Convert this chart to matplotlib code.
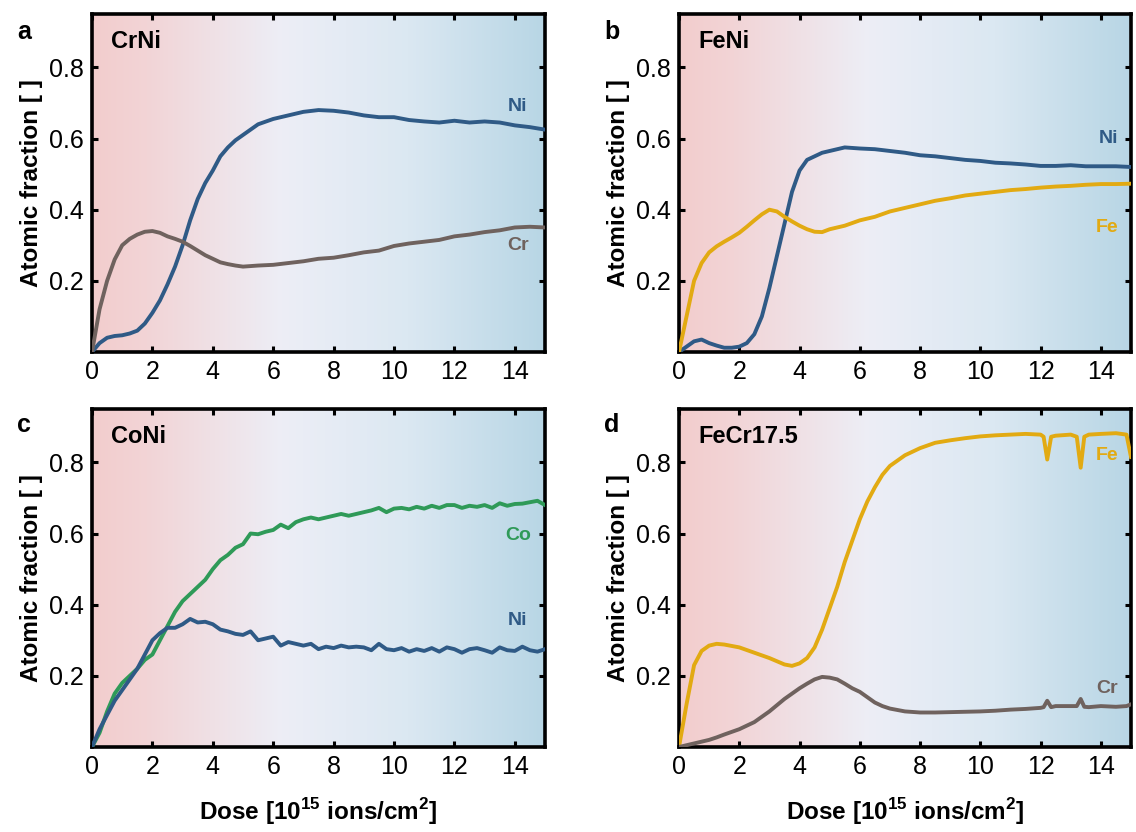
import numpy as np
import matplotlib
matplotlib.use("Agg")
import matplotlib.pyplot as plt
from matplotlib.colors import LinearSegmentedColormap

plt.rcParams['font.family'] = ['Liberation Sans', 'DejaVu Sans']
plt.rcParams['mathtext.fontset'] = 'custom'
plt.rcParams['mathtext.rm'] = 'Liberation Sans'
plt.rcParams['mathtext.bf'] = 'Liberation Sans:bold'

# ---------------- data ----------------
# Panel a: CrNi
a_x = [0, 0.25, 0.5, 0.75, 1, 1.25, 1.5, 1.75, 2, 2.25, 2.5, 2.75, 3, 3.25, 3.5, 3.75, 4, 4.25, 4.5, 4.75,
       5, 5.5, 6, 6.5, 7, 7.5, 8, 8.5, 9, 9.5, 10, 10.5, 11, 11.5, 12, 12.5, 13, 13.5, 14, 14.5, 15]
a_ni = [0.0, 0.025, 0.04, 0.045, 0.047, 0.052, 0.06, 0.08, 0.11, 0.145, 0.19, 0.24, 0.30, 0.37, 0.43, 0.475,
        0.51, 0.55, 0.575, 0.595, 0.61, 0.64, 0.655, 0.665, 0.675, 0.68, 0.678, 0.673, 0.665, 0.66, 0.66,
        0.652, 0.648, 0.645, 0.65, 0.645, 0.648, 0.645, 0.637, 0.632, 0.625]
a_cr = [0.0, 0.12, 0.20, 0.26, 0.30, 0.318, 0.33, 0.338, 0.34, 0.335, 0.325, 0.318, 0.31, 0.298, 0.285, 0.272,
        0.262, 0.252, 0.247, 0.243, 0.240, 0.243, 0.245, 0.250, 0.255, 0.262, 0.265, 0.272, 0.280, 0.285, 0.298,
        0.305, 0.310, 0.315, 0.325, 0.330, 0.337, 0.342, 0.350, 0.352, 0.350]

# Panel b: FeNi
b_x = [0, 0.25, 0.5, 0.75, 1, 1.25, 1.5, 1.75, 2, 2.25, 2.5, 2.75, 3, 3.25, 3.5, 3.75, 4, 4.25, 4.5, 4.75,
       5, 5.5, 6, 6.5, 7, 7.5, 8, 8.5, 9, 9.5, 10, 10.5, 11, 11.5, 12, 12.5, 13, 13.5, 14, 14.5, 15]
b_fe = [0.0, 0.10, 0.20, 0.25, 0.28, 0.297, 0.31, 0.322, 0.335, 0.352, 0.37, 0.387, 0.40, 0.395, 0.38, 0.367,
        0.355, 0.345, 0.338, 0.337, 0.345, 0.355, 0.37, 0.38, 0.395, 0.405, 0.415, 0.425, 0.432, 0.44, 0.445,
        0.45, 0.455, 0.458, 0.462, 0.465, 0.467, 0.47, 0.472, 0.472, 0.473]
b_ni = [0.0, 0.015, 0.03, 0.035, 0.025, 0.018, 0.012, 0.012, 0.015, 0.025, 0.05, 0.10, 0.18, 0.27, 0.36, 0.45,
        0.51, 0.54, 0.55, 0.56, 0.565, 0.575, 0.572, 0.570, 0.565, 0.560, 0.553, 0.550, 0.545, 0.540, 0.537,
        0.532, 0.530, 0.527, 0.523, 0.523, 0.525, 0.522, 0.522, 0.522, 0.520]

# Panel c: CoNi
c_x = [0, 0.25, 0.5, 0.75, 1, 1.25, 1.5, 1.75, 2, 2.25, 2.5, 2.75, 3, 3.25, 3.5, 3.75, 4, 4.25, 4.5, 4.75,
       5, 5.25, 5.5, 5.75, 6, 6.25, 6.5, 6.75, 7, 7.25, 7.5, 7.75, 8, 8.25, 8.5, 8.75, 9, 9.25, 9.5, 9.75,
       10, 10.25, 10.5, 10.75, 11, 11.25, 11.5, 11.75, 12, 12.25, 12.5, 12.75, 13, 13.25, 13.5, 13.75, 14,
       14.25, 14.5, 14.75, 15]
c_co = [0.0, 0.04, 0.10, 0.15, 0.18, 0.20, 0.22, 0.245, 0.26, 0.30, 0.34, 0.38, 0.41, 0.43, 0.45, 0.47,
        0.50, 0.525, 0.54, 0.56, 0.57, 0.60, 0.598, 0.605, 0.61, 0.625, 0.615, 0.632, 0.64, 0.645, 0.64,
        0.645, 0.65, 0.655, 0.65, 0.655, 0.66, 0.665, 0.672, 0.66, 0.67, 0.672, 0.668, 0.675, 0.67, 0.678,
        0.672, 0.68, 0.68, 0.672, 0.678, 0.675, 0.68, 0.672, 0.685, 0.678, 0.683, 0.684, 0.688, 0.692, 0.68]
c_ni = [0.0, 0.05, 0.09, 0.13, 0.16, 0.19, 0.22, 0.26, 0.30, 0.32, 0.335, 0.335, 0.345, 0.36, 0.35, 0.352,
        0.345, 0.33, 0.325, 0.318, 0.315, 0.325, 0.30, 0.305, 0.31, 0.285, 0.295, 0.29, 0.285, 0.29, 0.275,
        0.282, 0.278, 0.285, 0.28, 0.282, 0.28, 0.272, 0.29, 0.275, 0.272, 0.278, 0.268, 0.275, 0.27, 0.278,
        0.268, 0.28, 0.275, 0.265, 0.275, 0.278, 0.272, 0.265, 0.28, 0.272, 0.27, 0.282, 0.272, 0.268, 0.275]

# Panel d: FeCr17.5
d_x = [0, 0.25, 0.5, 0.75, 1, 1.25, 1.5, 2, 2.5, 3, 3.5, 3.75, 4, 4.25, 4.5, 4.75, 5, 5.25, 5.5, 5.75,
       6, 6.25, 6.5, 6.75, 7, 7.5, 8, 8.5, 9, 9.5, 10, 10.5, 11, 11.5, 12, 12.1, 12.22, 12.35, 12.5, 13,
       13.2, 13.33, 13.45, 13.6, 14, 14.5, 14.85, 15]
d_fe = [0.0, 0.12, 0.23, 0.27, 0.285, 0.29, 0.288, 0.28, 0.265, 0.25, 0.232, 0.228, 0.235, 0.25, 0.28, 0.33,
        0.39, 0.45, 0.52, 0.58, 0.64, 0.69, 0.73, 0.765, 0.79, 0.82, 0.84, 0.855, 0.862, 0.868, 0.873, 0.876,
        0.878, 0.88, 0.878, 0.872, 0.808, 0.872, 0.875, 0.878, 0.872, 0.785, 0.872, 0.878, 0.88, 0.882, 0.878,
        0.815]
d_cr = [0.0, 0.005, 0.01, 0.015, 0.02, 0.027, 0.035, 0.05, 0.07, 0.10, 0.135, 0.15, 0.165, 0.178, 0.19, 0.197,
        0.195, 0.19, 0.178, 0.165, 0.155, 0.14, 0.125, 0.115, 0.108, 0.10, 0.097, 0.097, 0.098, 0.099, 0.10,
        0.102, 0.105, 0.107, 0.11, 0.112, 0.13, 0.112, 0.115, 0.115, 0.115, 0.135, 0.113, 0.112, 0.115, 0.113,
        0.115, 0.12]

panel_letters = ['a', 'b', 'c', 'd']
panel_titles = ['CrNi', 'FeNi', 'CoNi', 'FeCr17.5']
x_ticks = [0, 2, 4, 6, 8, 10, 12, 14]
y_ticks = [0.2, 0.4, 0.6, 0.8]

# ---------------- style ----------------
C_NI = '#2f5a86'
C_CR = '#6f625e'
C_FE = '#e2aa12'
C_CO = '#2f9a58'

bg_cmap = LinearSegmentedColormap.from_list(
    'bg', [(0.0, '#f3cdcd'), (0.12, '#f2d4d6'), (0.42, '#edeef6'),
           (0.7, '#dbe8f2'), (1.0, '#b8d6e5')])

panels = [
    dict(series=[(a_x, a_ni, C_NI, 'Ni', 14.1, 0.69), (a_x, a_cr, C_CR, 'Cr', 14.1, 0.30)]),
    dict(series=[(b_x, b_ni, C_NI, 'Ni', 14.25, 0.60), (b_x, b_fe, C_FE, 'Fe', 14.2, 0.35)]),
    dict(series=[(c_x, c_co, C_CO, 'Co', 14.1, 0.595), (c_x, c_ni, C_NI, 'Ni', 14.1, 0.355)]),
    dict(series=[(d_x, d_fe, C_FE, 'Fe', 14.2, 0.82), (d_x, d_cr, C_CR, 'Cr', 14.2, 0.165)]),
]

W, H = 1136, 832
fig = plt.figure(figsize=(W / 100, H / 100), dpi=100)

# axes boxes in pixels: (left, top, right, bottom)
boxes = [(92, 14, 545, 352), (679, 14, 1131, 352),
         (92, 409, 545, 747), (679, 409, 1131, 747)]
letter_pos = [(24, 32), (612, 32), (24, 425), (612, 425)]

for i, (box, p) in enumerate(zip(boxes, panels)):
    l, t, r, b = box
    ax = fig.add_axes([l / W, 1 - b / H, (r - l) / W, (b - t) / H])
    ax.set_xlim(0, 15)
    ax.set_ylim(0, 0.95)
    grad = np.linspace(0, 1, 256).reshape(1, -1)
    ax.imshow(grad, aspect='auto', cmap=bg_cmap, extent=[0, 15, 0, 0.95],
              zorder=0, interpolation='bicubic')
    for (xs, ys, col, lab, lx, ly) in p['series']:
        ax.plot(xs, ys, color=col, lw=2.8, solid_joinstyle='round', zorder=3)
        ax.text(lx, ly, lab, color=col, fontsize=14, fontweight='bold',
                ha='center', va='center', zorder=4)
    ax.text(0.042, 0.918, panel_titles[i], transform=ax.transAxes, fontsize=17,
            fontweight='bold', ha='left', va='center', color='black')
    ax.set_xticks(x_ticks)
    ax.set_yticks(y_ticks)
    ax.set_yticklabels([f'{v:.1f}' for v in y_ticks])
    ax.tick_params(direction='in', length=4, width=2.2, labelsize=18,
                   top=True, right=True, pad=6, color='black')
    for s in ax.spines.values():
        s.set_linewidth(2.6)
        s.set_color('black')
    ax.set_ylabel('Atomic fraction [ ]', fontsize=17.5, fontweight='bold', labelpad=4)
    if i >= 2:
        ax.set_xlabel(r'Dose [10$^{\mathbf{15}}$ ions/cm$^{\mathbf{2}}$]', fontsize=17.5,
                      fontweight='bold', labelpad=12)
    fig.text(letter_pos[i][0] / W, 1 - letter_pos[i][1] / H, panel_letters[i],
             fontsize=18, fontweight='bold', ha='center', va='center')

fig.savefig('out.png', dpi=100)
